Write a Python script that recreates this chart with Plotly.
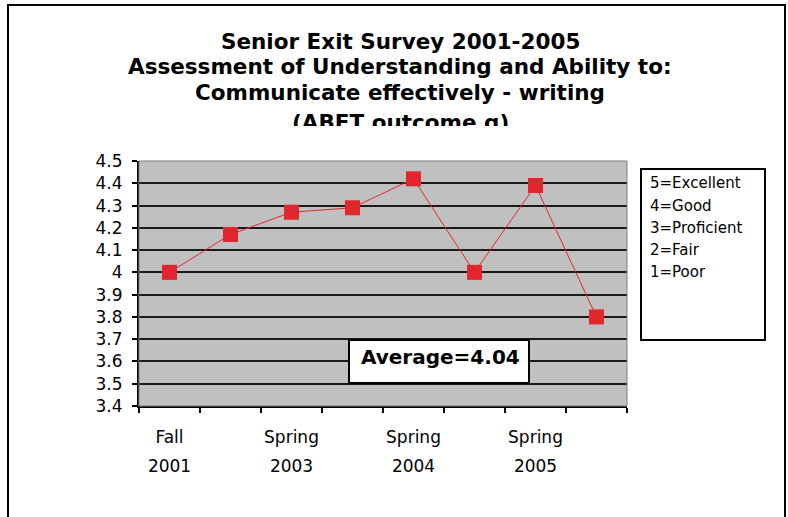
import plotly.graph_objects as go

# ---- data ----
categories = ["Fall 2001", "Spring 2002", "Spring 2003", "Fall 2003",
              "Spring 2004", "Fall 2004", "Spring 2005", "Fall 2005"]
tick_line1 = ["Fall", "", "Spring", "", "Spring", "", "Spring", ""]
tick_line2 = ["2001", "", "2003", "", "2004", "", "2005", ""]
scores = [4.00, 4.17, 4.27, 4.29, 4.42, 4.00, 4.39, 3.80]
title_lines = ["Senior Exit Survey 2001-2005",
               "Assessment of Understanding and Ability to:",
               "Communicate effectively - writing",
               "(ABET outcome g)"]
scale_lines = ["5=Excellent", "4=Good", "3=Proficient", "2=Fair", "1=Poor"]
average_text = "Average=4.04"

# ---- layout geometry (pixels) ----
W, H = 788, 517
PL, PR, PT, PB = 139, 627, 161, 406


def px(x):
    return (x - PL) / (PR - PL)


def py(y):
    return (PB - y) / (PB - PT)


RED = "#E2262D"

fig = go.Figure()
fig.add_trace(go.Scatter(
    x=categories, y=scores, mode="lines+markers",
    line=dict(color=RED, width=1),
    marker=dict(symbol="square", size=15, color=RED),
    hoverinfo="x+y", showlegend=False,
))
# invisible companion trace that carries the second line of the category labels
fig.add_trace(go.Scatter(
    x=categories, y=scores, xaxis="x2", mode="markers",
    marker=dict(opacity=0), hoverinfo="skip", showlegend=False,
))

shapes = [
    # outer chart frame
    dict(type="rect", xref="paper", yref="paper", x0=px(8), x1=px(785), y0=py(5), y1=py(540),
         line=dict(color="black", width=2), fillcolor="rgba(0,0,0,0)", layer="below"),
    # plot area border
    dict(type="rect", xref="paper", yref="paper", x0=0, x1=1, y0=0, y1=1,
         line=dict(color="#808080", width=1), fillcolor="rgba(0,0,0,0)", layer="above"),
    # average box
    dict(type="rect", xref="paper", yref="paper", x0=px(349), x1=px(529), y0=py(383), y1=py(340),
         line=dict(color="black", width=2), fillcolor="white", layer="above"),
    # scale box
    dict(type="rect", xref="paper", yref="paper", x0=px(641), x1=px(765), y0=py(340), y1=py(169),
         line=dict(color="black", width=2), fillcolor="white", layer="above"),
]

annotations = []
title_y = [41.5, 66.5, 92.5, 122]
for line, yy in zip(title_lines, title_y):
    annotations.append(dict(text=line, xref="paper", yref="paper", x=px(400), y=py(yy),
                            xanchor="center", yanchor="middle", showarrow=False,
                            font=dict(family="DejaVu Sans", size=21.5, color="black", weight="bold")))
# cover lower part of last title line (clipped in the original)
annotations.append(dict(text=" ", xref="paper", yref="paper", x=px(400), y=py(126),
                        xanchor="center", yanchor="top", showarrow=False, width=440, height=20,
                        bgcolor="white", borderwidth=0, borderpad=0,
                        font=dict(size=10)))

annotations.append(dict(text=average_text, xref="paper", yref="paper", x=px(440), y=py(357),
                        xanchor="center", yanchor="middle", showarrow=False,
                        font=dict(family="DejaVu Sans", size=20, color="black", weight="bold")))

scale_y = [183, 205.5, 228, 250, 272]
for line, yy in zip(scale_lines, scale_y):
    annotations.append(dict(text=line, xref="paper", yref="paper", x=px(648), y=py(yy),
                            xanchor="left", yanchor="middle", showarrow=False,
                            font=dict(family="DejaVu Sans", size=15, color="black")))

tickfont = dict(family="DejaVu Sans", size=17, color="black")
fig.update_layout(
    width=W, height=H,
    margin=dict(l=PL, r=W - PR, t=PT, b=H - PB, pad=0),
    paper_bgcolor="white", plot_bgcolor="#C0C0C0",
    showlegend=False,
    shapes=shapes, annotations=annotations,
    xaxis=dict(type="category", categoryorder="array", categoryarray=categories,
               range=[-0.5, len(categories) - 0.5],
               tickmode="array", tickvals=categories, ticktext=tick_line1, tickangle=0,
               tickson="boundaries", ticks="outside", ticklen=5, tickwidth=2, tickcolor="black",
               showline=True, linecolor="black", linewidth=2, showgrid=False,
               ticklabelstandoff=15, tickfont=tickfont, fixedrange=True),
    xaxis2=dict(type="category", categoryorder="array", categoryarray=categories,
                range=[-0.5, len(categories) - 0.5], overlaying="x", anchor="y", side="bottom",
                tickmode="array", tickvals=categories, ticktext=tick_line2, tickangle=0,
                ticks="", showline=False, showgrid=False, zeroline=False,
                ticklabelstandoff=48, tickfont=tickfont, fixedrange=True),
    yaxis=dict(range=[3.4, 4.5], tick0=3.4, dtick=0.1,
               ticks="outside", ticklen=5, tickwidth=2, tickcolor="black",
               showline=True, linecolor="black", linewidth=2,
               showgrid=True, gridcolor="#1a1a1a", gridwidth=2, zeroline=False,
               ticklabelstandoff=6, tickfont=tickfont, fixedrange=True),
)

fig.write_html("out.html")
